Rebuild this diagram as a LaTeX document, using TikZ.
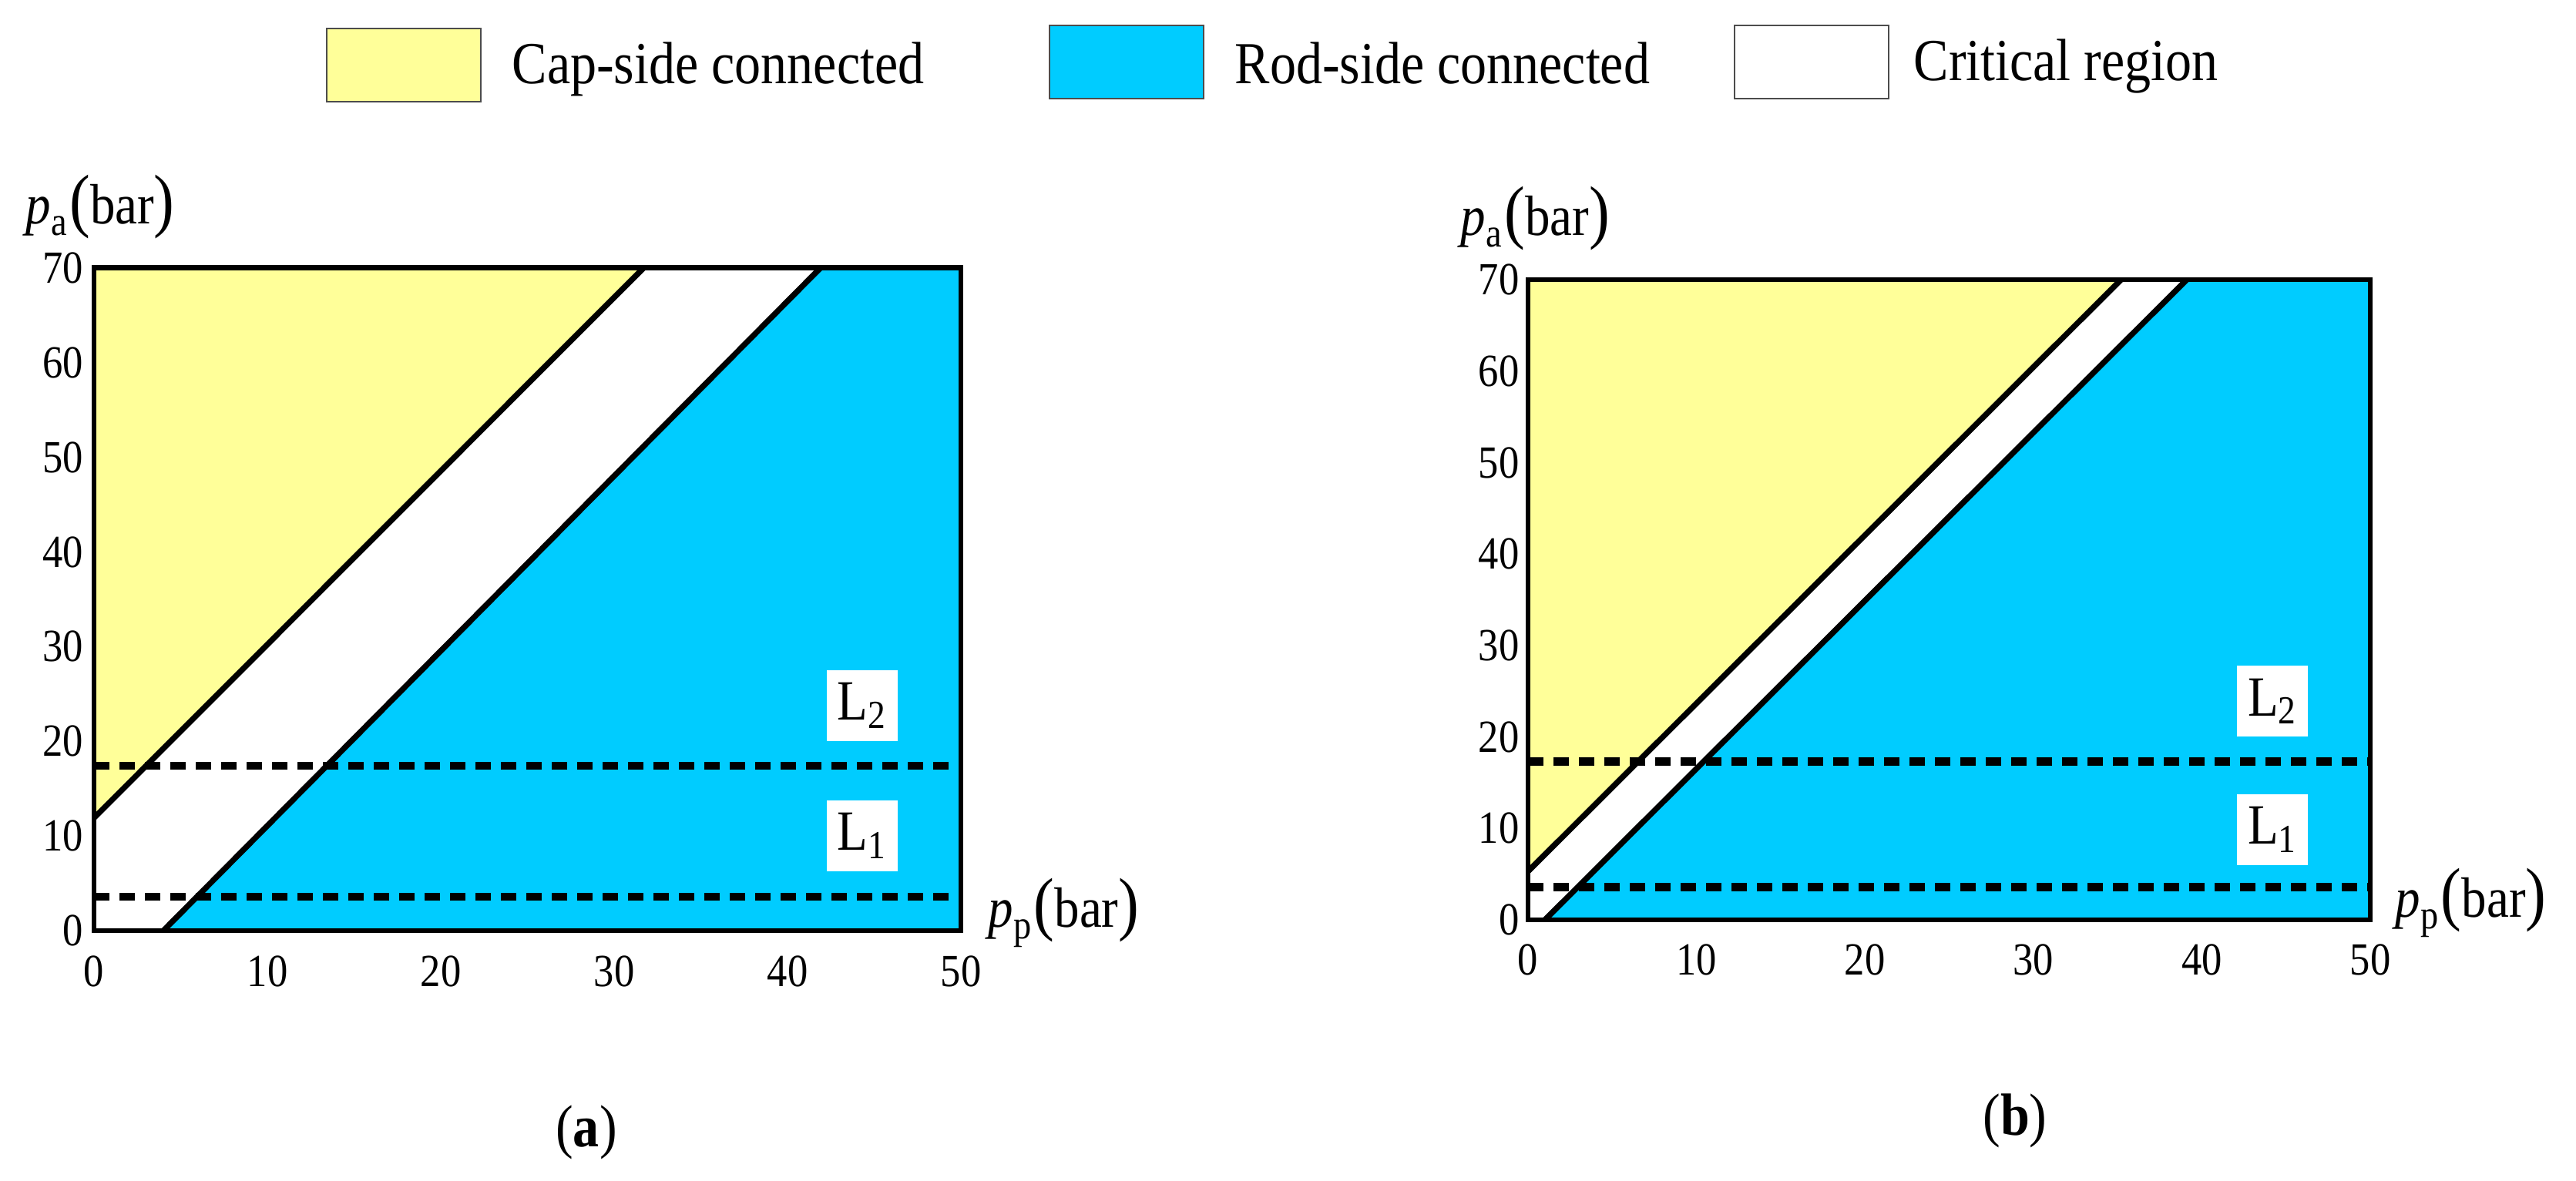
\documentclass[tikz,border=0pt]{standalone}
\usepackage{fontspec}
\setmainfont{Liberation Serif}[FakeStretch=0.88]
\newcommand{\myaxlab}[2]{\textit{#1}\raisebox{-0.45ex}{\fontsize{15}{16}\selectfont #2}{\fontsize{26}{26}\selectfont\kern1pt(}bar{\fontsize{26}{26}\selectfont)}}
\begin{document}
\begin{tikzpicture}[x=1cm,y=1cm,
  frame/.style={line width=1.9pt},
  bound/.style={line width=2.1pt},
  lev/.style={line width=3pt,dash pattern=on 0.2cm off 0.13cm},
  tick/.style={font=\fontsize{17}{19}\selectfont,inner sep=0pt},
  lab/.style={fill=white,inner sep=0pt,minimum width=0.92cm,minimum height=0.92cm,font=\fontsize{21}{23}\selectfont},
  leg/.style={draw=black!70,line width=0.6pt,minimum width=2.0cm,minimum height=0.95cm,inner sep=0pt},
  legt/.style={anchor=west,font=\fontsize{22}{24}\selectfont,inner sep=0pt},
  axt/.style={anchor=base west,font=\fontsize{21}{23}\selectfont,inner sep=0pt},
  capt/.style={font=\fontsize{22}{24}\selectfont}]
\definecolor{capc}{HTML}{FFFF99}
\definecolor{rodc}{HTML}{00CCFF}
\useasboundingbox[fill=white] (0,0) rectangle (33.43,-15.32);
% legend
\node[leg,fill=capc] (k1) at (5.24,-0.845) {};
\node[legt] (t1) at (6.64,-0.9) {Cap-side connected};
\node[leg,fill=rodc] (k2) at (14.62,-0.805) {};
\node[legt] (t2) at (16.02,-0.82) {Rod-side connected};
\node[leg,fill=white] (k3) at (23.51,-0.805) {};
\node[legt] (t3) at (24.83,-0.86) {Critical region};
% ---------- (a)
\begin{scope}[shift={(1.22,-12.08)},x=0.225cm,y=0.1229cm]
\fill[rodc] (0,0) rectangle (50,70);
\fill[white] (0,0) -- (4,0) -- (41.9,70) -- (0,70) -- cycle;
\fill[capc] (0,11.9) -- (31.7,70) -- (0,70) -- cycle;
\coordinate (a1s) at (0,11.9); \coordinate (a1e) at (31.7,70);
\coordinate (a2s) at (4,0); \coordinate (a2e) at (41.9,70);
\draw[bound] (a1s) -- (a1e);
\draw[bound] (a2s) -- (a2e);
\coordinate (aL2s) at (0,17.4); \coordinate (aL2e) at (50,17.4);
\coordinate (aL1s) at (0,3.6); \coordinate (aL1e) at (50,3.6);
\draw[lev] (aL2s) -- (aL2e);
\draw[lev] (aL1s) -- (aL1e);
\draw[frame] (0,0) rectangle (50,70);
\node[lab] (aL2) at (44.3,23.8) {L\textsubscript{2}};
\node[lab] (aL1) at (44.3,10) {L\textsubscript{1}};
\foreach \v in {0,10,...,70}{\node[tick,anchor=east] (ay\v) at (-0.6,\v) {\v};}
\foreach \v in {0,10,...,50}{\node[tick] (ax\v) at (\v,-4.3) {\v};}
\end{scope}
\node[axt] (apa) at (0.33,-2.9) {\myaxlab{p}{a}};
\node[axt] (app) at (12.82,-12.03) {\myaxlab{p}{p}};
\node[capt] (capa) at (7.61,-14.70) {(\textbf{a})};
% ---------- (b)
\begin{scope}[shift={(19.83,-11.94)},x=0.2186cm,y=0.1187cm]
\fill[rodc] (0,0) rectangle (50,70);
\fill[white] (0,0) -- (1,0) -- (39.1,70) -- (0,70) -- cycle;
\fill[capc] (0,5.3) -- (35.2,70) -- (0,70) -- cycle;
\coordinate (b1s) at (0,5.3); \coordinate (b1e) at (35.2,70);
\coordinate (b2s) at (1,0); \coordinate (b2e) at (39.1,70);
\draw[bound] (b1s) -- (b1e);
\draw[bound] (b2s) -- (b2e);
\coordinate (bL2s) at (0,17.3); \coordinate (bL2e) at (50,17.3);
\coordinate (bL1s) at (0,3.6); \coordinate (bL1e) at (50,3.6);
\draw[lev] (bL2s) -- (bL2e);
\draw[lev] (bL1s) -- (bL1e);
\draw[frame] (0,0) rectangle (50,70);
\node[lab] (bL2) at (44.2,23.9) {L\textsubscript{2}};
\node[lab] (bL1) at (44.2,9.9) {L\textsubscript{1}};
\foreach \v in {0,10,...,70}{\node[tick,anchor=east] (by\v) at (-0.5,\v) {\v};}
\foreach \v in {0,10,...,50}{\node[tick] (bx\v) at (\v,-4.4) {\v};}
\end{scope}
\node[axt] (bpa) at (18.95,-3.05) {\myaxlab{p}{a}};
\node[axt] (bpp) at (31.08,-11.90) {\myaxlab{p}{p}};
\node[capt] (capb) at (26.15,-14.55) {(\textbf{b})};
\end{tikzpicture}
\end{document}
